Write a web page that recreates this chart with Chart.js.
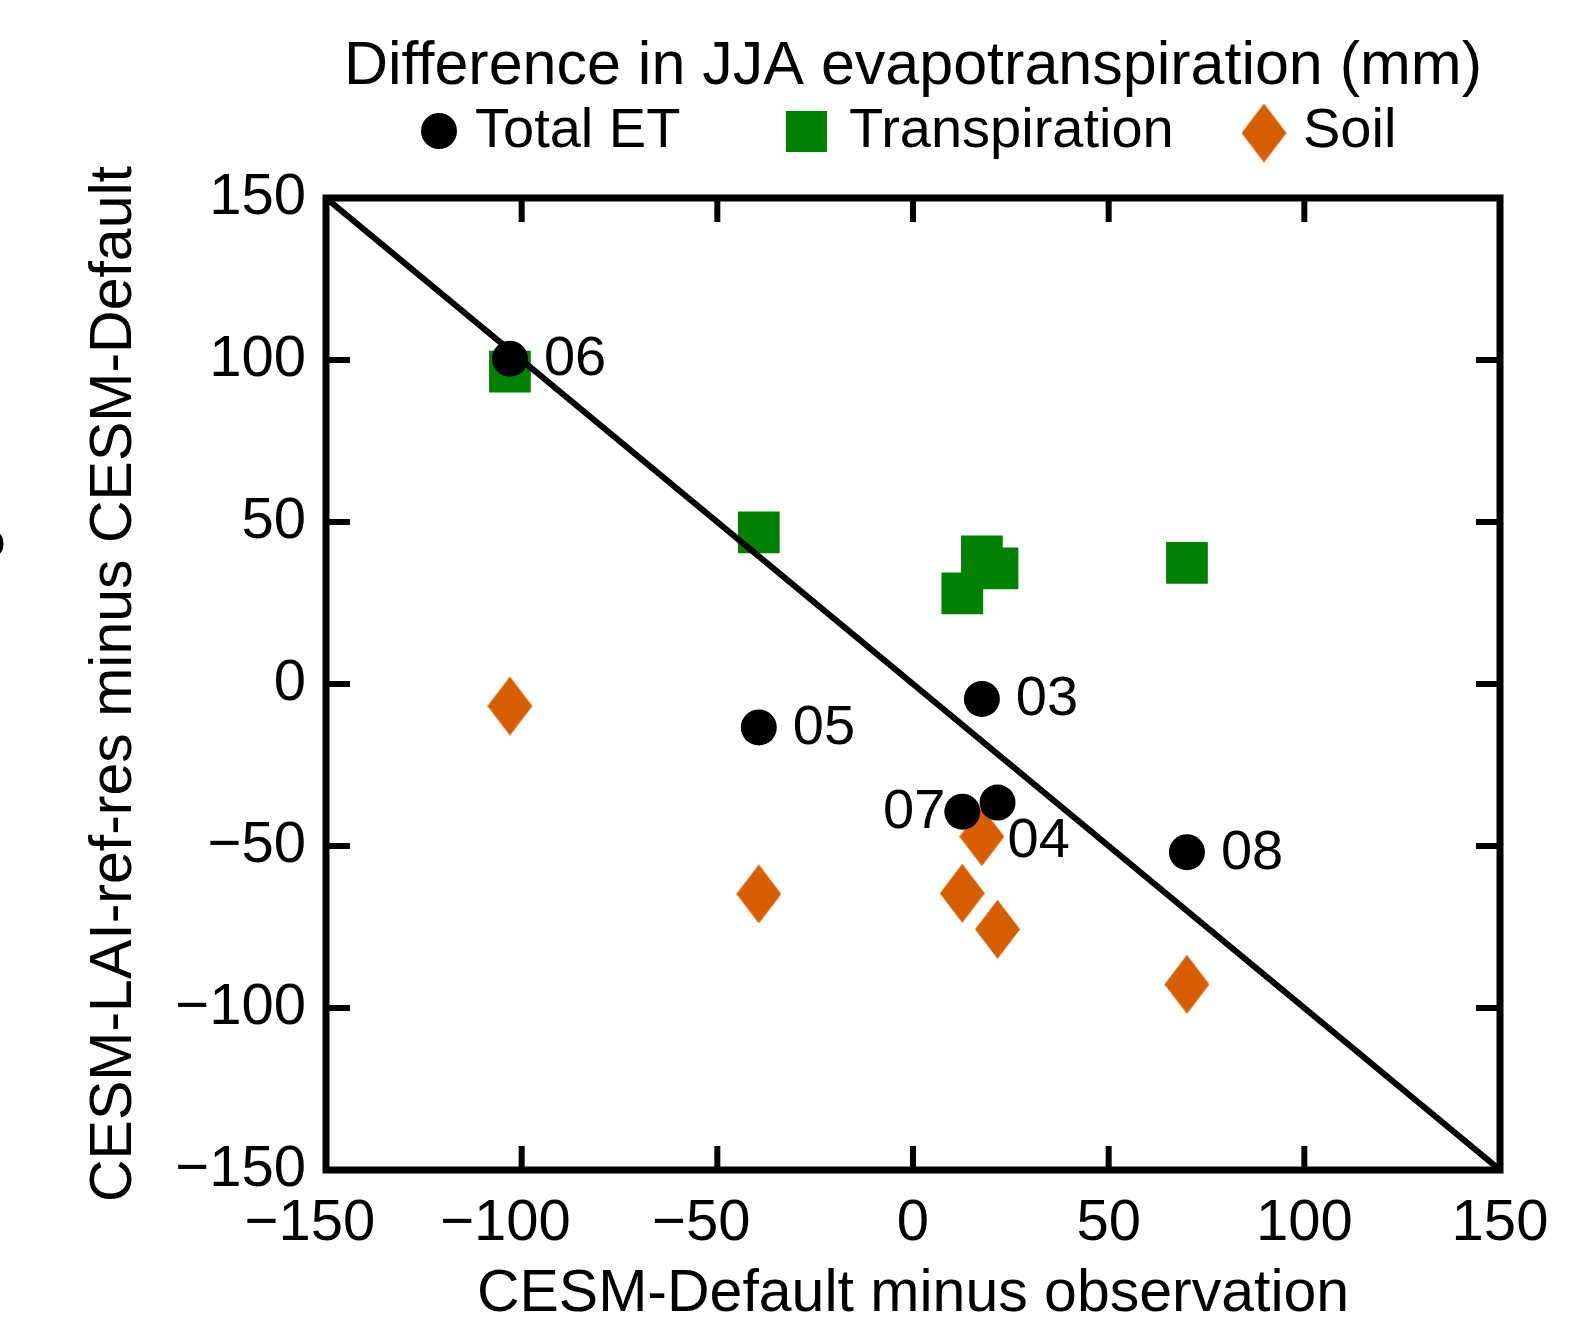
<!DOCTYPE html>
<html>
<head>
<meta charset="utf-8">
<script src="https://cdn.jsdelivr.net/npm/chart.js@4.4.1/dist/chart.umd.min.js"></script>
<style>
  html, body { margin: 0; padding: 0; background: #fff; }
  #wrap { width: 1584px; height: 1324px; }
</style>
</head>
<body>
<div id="wrap"><canvas id="chart" width="1584" height="1324"></canvas></div>
<script>
// site years, one value per site
const sites = ["03", "04", "05", "06", "07", "08"];
const defaultMinusObs = [17.6, 21.6, -39.4, -103, 12.6, 70.0];
const totalET = [-4.6, -36.6, -13.4, 100.4, -39.4, -51.9];
const transpiration = [39.4, 35.7, 46.8, 96.4, 28.0, 37.4];
const soil = [-47.1, -75.7, -64.8, -6.8, -64.6, -92.7];
// 1:1 reference line (y = -x)
const oneToOneX = [-150, 150];
const oneToOneY = [150, -150];
const axisTicks = [-150, -100, -50, 0, 50, 100, 150];

const FONT = "'Liberation Sans', Arial, Helvetica, sans-serif";
const GREEN = "#008000";
const ORANGE = "#D55E00";

// where the year labels sit relative to the Total ET dot
const defaultPlacement = { dx: 34, dy: 1, align: "left" };
const labelPlacement = {
  "04": { dx: 10, dy: 39, align: "left" },
  "07": { dx: -17, dy: 1, align: "right" }
};

function diamondSprite(w, h, color) {
  const c = document.createElement("canvas");
  c.width = w;
  c.height = h;
  const g = c.getContext("2d");
  g.fillStyle = color;
  g.beginPath();
  g.moveTo(w / 2, 0);
  g.lineTo(w, h / 2);
  g.lineTo(w / 2, h);
  g.lineTo(0, h / 2);
  g.closePath();
  g.fill();
  return c;
}
const diamond = diamondSprite(45, 59, ORANGE);

function pts(xs, ys) {
  return xs.map((v, i) => ({ x: v, y: ys[i] }));
}

// real minus sign; x labels get a trailing figure space so the digits stay centred on the tick
function minusFmt(v) {
  return v < 0 ? "\u2212" + Math.abs(v) : String(v);
}
function minusFmtX(v) {
  return v < 0 ? "\u2212" + Math.abs(v) + "\u2007" : String(v);
}

const frameAndLabels = {
  id: "frameAndLabels",
  afterDatasetsDraw(chart) {
    const ctx = chart.ctx;
    const a = chart.chartArea;
    const x = chart.scales.x;
    const y = chart.scales.y;
    ctx.save();

    // year labels next to the Total ET dots
    ctx.fillStyle = "#000";
    ctx.font = "56px " + FONT;
    ctx.textBaseline = "middle";
    sites.forEach((s, i) => {
      const p = labelPlacement[s] || defaultPlacement;
      ctx.textAlign = p.align;
      ctx.fillText(s, x.getPixelForValue(defaultMinusObs[i]) + p.dx, y.getPixelForValue(totalET[i]) + p.dy);
    });

    // box
    ctx.strokeStyle = "#000";
    ctx.lineWidth = 7;
    ctx.strokeRect(a.left, a.top, a.right - a.left, a.bottom - a.top);

    // inward ticks on all four sides
    ctx.lineWidth = 6;
    ctx.beginPath();
    x.ticks.forEach(t => {
      const px = x.getPixelForValue(t.value);
      ctx.moveTo(px, a.top);
      ctx.lineTo(px, a.top + 24);
      ctx.moveTo(px, a.bottom);
      ctx.lineTo(px, a.bottom - 24);
    });
    y.ticks.forEach(t => {
      const py = y.getPixelForValue(t.value);
      ctx.moveTo(a.left, py);
      ctx.lineTo(a.left + 24, py);
      ctx.moveTo(a.right, py);
      ctx.lineTo(a.right - 24, py);
    });
    ctx.stroke();

    // title
    ctx.textAlign = "center";
    ctx.font = "61px " + FONT;
    ctx.fillText("Difference in JJA evapotranspiration (mm)", (a.left + a.right) / 2, 67);

    // legend
    const ds = chart.data.datasets;
    ctx.font = "56px " + FONT;
    ctx.textAlign = "left";
    ctx.fillStyle = ds[0].backgroundColor;
    ctx.beginPath();
    ctx.arc(439, 131, 18, 0, Math.PI * 2);
    ctx.fill();
    ctx.fillStyle = "#000";
    ctx.fillText(ds[0].label, 475, 132);

    ctx.fillStyle = ds[2].backgroundColor;
    ctx.fillRect(786, 111, 41, 41);
    ctx.fillStyle = "#000";
    ctx.fillText(ds[2].label, 849, 132);

    ctx.drawImage(diamond, 1264 - diamond.width / 2, 133 - diamond.height / 2);
    ctx.fillText(ds[3].label, 1303, 132);

    // sliver of a cropped label at the left edge
    ctx.translate(3, 544);
    ctx.rotate(-Math.PI / 2);
    ctx.font = "59px " + FONT;
    ctx.textAlign = "center";
    ctx.textBaseline = "alphabetic";
    ctx.fillText("e", 0, 0);

    ctx.restore();
  }
};

function axisOpts(title, fitFn, titlePad, fmt) {
  return {
    type: "linear",
    min: -150,
    max: 150,
    afterBuildTicks: s => { s.ticks = axisTicks.map(v => ({ value: v })); },
    afterFit: fitFn,
    grid: { display: false, drawTicks: false },
    border: { display: false },
    ticks: {
      color: "#000",
      font: { family: FONT, size: 58 },
      maxRotation: 0,
      autoSkip: false,
      callback: fmt
    },
    title: {
      display: true,
      text: title,
      color: "#000",
      font: { family: FONT, size: 59, lineHeight: 1 },
      padding: titlePad
    }
  };
}

const xAxis = axisOpts("CESM-Default minus observation", s => { s.height = 154; }, { top: 0, bottom: 0 }, minusFmtX);
xAxis.position = "bottom";
xAxis.ticks.padding = 19;
const yAxis = axisOpts("CESM-LAI-ref-res minus CESM-Default", s => { s.width = 326; }, { top: 85, bottom: 0 }, minusFmt);
yAxis.position = "left";
yAxis.ticks.padding = 20;

new Chart(document.getElementById("chart"), {
  type: "scatter",
  data: {
    datasets: [
      {
        label: "Total ET",
        data: pts(defaultMinusObs, totalET),
        pointStyle: "circle",
        pointRadius: 18,
        pointHoverRadius: 18,
        backgroundColor: "#000",
        borderWidth: 0
      },
      {
        label: "1:1",
        data: pts(oneToOneX, oneToOneY),
        showLine: true,
        borderColor: "#000",
        borderWidth: 6,
        pointRadius: 0
      },
      {
        label: "Transpiration",
        data: pts(defaultMinusObs, transpiration),
        pointStyle: "rect",
        pointRadius: 29.5,
        pointHoverRadius: 29.5,
        backgroundColor: GREEN,
        borderWidth: 0
      },
      {
        label: "Soil",
        data: pts(defaultMinusObs, soil),
        pointStyle: diamond,
        pointRadius: 30,
        backgroundColor: ORANGE,
        borderWidth: 0
      }
    ]
  },
  options: {
    responsive: false,
    animation: false,
    layout: { padding: { top: 198, right: 84, left: 0, bottom: 0 } },
    plugins: {
      legend: { display: false },
      title: { display: false },
      tooltip: { enabled: false }
    },
    scales: { x: xAxis, y: yAxis }
  },
  plugins: [frameAndLabels]
});
</script>
</body>
</html>
